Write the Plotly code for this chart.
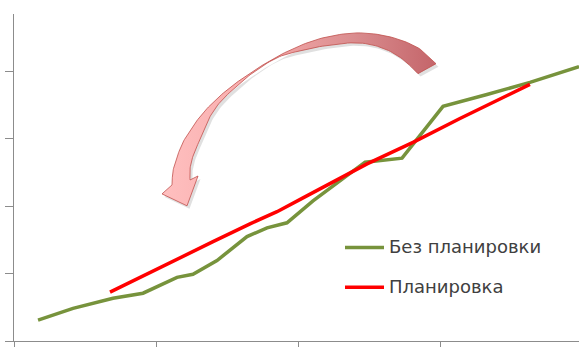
import numpy as np
import plotly.graph_objects as go

# ---------------- data ----------------
x_green = [1.69, 4.15, 6.96, 9.07, 11.46, 12.58, 14.27, 16.38, 17.79, 19.19,
           21.02, 24.68, 27.28, 30.16, 33.25, 36.27, 39.72]
y_green = [6.2, 9.7, 12.7, 14.2, 18.9, 19.8, 23.9, 31.0, 33.6, 35.1,
           41.6, 53.1, 54.3, 69.7, 73.2, 76.8, 81.5]
x_red = [6.75, 8.86, 11.18, 13.99, 16.59, 18.49, 20.32, 24.82, 28.05, 31.35, 36.27]
y_red = [14.5, 18.9, 23.9, 29.5, 34.8, 38.4, 42.5, 52.6, 59.0, 66.1, 76.2]
series_names = ["Без планировки", "Планировка"]
x_ticks = [0, 10, 20, 30, 40]
y_ticks = [0, 20, 40, 60, 80]

# ---------------- geometry / style ----------------
W, H = 579, 347
PL, PT, PR, PB = 14, 14, 579, 343          # plot area in pixels
X_PER_PX = 10 / 142.25
Y_PER_PX = 20 / 67.75
X_MAX = (PR - PL) * X_PER_PX
Y_MAX = (PB - PT) * Y_PER_PX
GREEN = "#77933C"
RED = "#FF0000"
AXIS = "#8C8C8C"


def px2d(pts):
    a = np.asarray(pts, dtype=float)
    return (a[:, 0] - PL) * X_PER_PX, (PB - a[:, 1]) * Y_PER_PX


def catmull(pts, n=10):
    p = np.asarray(pts, dtype=float)
    p = np.vstack([p[0], p, p[-1]])
    out = []
    for i in range(1, len(p) - 2):
        p0, p1, p2, p3 = p[i - 1], p[i], p[i + 1], p[i + 2]
        for t in np.linspace(0, 1, n, endpoint=False):
            t2, t3 = t * t, t * t * t
            out.append(0.5 * ((2 * p1) + (-p0 + p2) * t + (2 * p0 - 5 * p1 + 4 * p2 - p3) * t2
                              + (-p0 + 3 * p1 - 3 * p2 + p3) * t3))
    out.append(p[-2])
    return np.array(out)


# curved arrow (decoration), pixel coordinates
outer = [(436, 64), (418, 48), (390, 37), (357, 33), (323, 38), (295, 48), (270, 61),
         (248, 75), (230, 88), (214, 102), (201, 116), (191, 130), (183, 143),
         (177, 158), (173, 172), (172, 186)]
inner = [(190, 181), (190, 170), (193, 157), (200, 140), (208, 121), (219, 104), (234, 89),
         (253, 73), (277, 58), (300, 51), (325, 46), (357, 43), (382, 48), (402, 59), (418, 74)]
head = np.array([(162, 195), (187, 207), (198, 177)])
arrow = np.vstack([catmull(outer), head, catmull(inner), [outer[0]]])

grad = dict(type="horizontal",
            colorscale=[[0, "#FFC0C0"], [0.35, "#F7ABAB"], [0.7, "#DA8D8F"], [1, "#C4656A"]],
            start=(160 - PL) * X_PER_PX, stop=(436 - PL) * X_PER_PX)

fig = go.Figure()

# shadow
sx, sy = px2d(arrow + np.array([2.5, 3.0]))
fig.add_trace(go.Scatter(x=sx, y=sy, mode="lines", fill="toself",
                         fillcolor="rgba(0,0,0,0.12)", line=dict(width=0),
                         hoverinfo="skip", showlegend=False))
ax_, ay_ = px2d(arrow)
fig.add_trace(go.Scatter(x=ax_, y=ay_, mode="lines", fill="toself",
                         fillgradient=grad, line=dict(color="#C0504D", width=0.8),
                         hoverinfo="skip", showlegend=False))

fig.add_trace(go.Scatter(x=x_green, y=y_green, mode="lines", name=series_names[0],
                         line=dict(color=GREEN, width=3.5), showlegend=False))
fig.add_trace(go.Scatter(x=x_red, y=y_red, mode="lines", name=series_names[1],
                         line=dict(color=RED, width=3.5), showlegend=False))

# manual legend
leg_y = [249, 289]
leg_c = [GREEN, RED]
shapes = []
annotations = []
for name, yy, cc in zip(series_names, leg_y, leg_c):
    shapes.append(dict(type="line", xref="paper", yref="paper",
                       x0=(345 - PL) / (PR - PL), x1=(384 - PL) / (PR - PL),
                       y0=(PB - yy) / (PB - PT), y1=(PB - yy) / (PB - PT),
                       line=dict(color=cc, width=3.5)))
    annotations.append(dict(text=name, xref="paper", yref="paper",
                            x=(387 - PL) / (PR - PL), y=(PB - yy + 1) / (PB - PT),
                            xanchor="left", yanchor="middle", showarrow=False,
                            font=dict(family="DejaVu Sans", size=18, color="#404040")))

fig.update_layout(
    width=W, height=H, margin=dict(l=PL, r=W - PR, t=PT, b=H - PB),
    paper_bgcolor="white", plot_bgcolor="white",
    shapes=shapes, annotations=annotations, showlegend=False,
    xaxis=dict(range=[0, X_MAX], tickvals=x_ticks, showticklabels=False,
               ticks="outside", ticklen=6, tickcolor=AXIS, tickwidth=1,
               showline=True, linecolor=AXIS, linewidth=1.2,
               showgrid=False, zeroline=False, fixedrange=True),
    yaxis=dict(range=[0, Y_MAX], tickvals=y_ticks, showticklabels=False,
               ticks="outside", ticklen=8, tickcolor=AXIS, tickwidth=1,
               showline=True, linecolor=AXIS, linewidth=1.2,
               showgrid=False, zeroline=False, fixedrange=True),
)

fig.write_html("out.html")
